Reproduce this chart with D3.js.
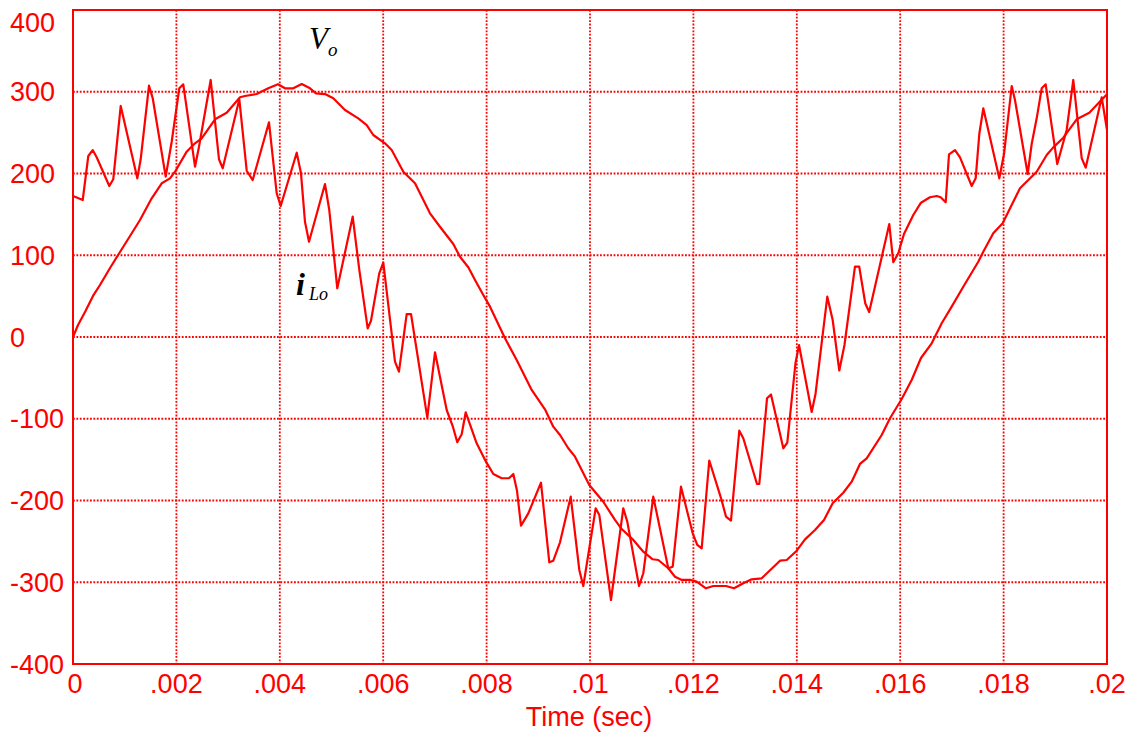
<!DOCTYPE html>
<html>
<head>
<meta charset="utf-8">
<script src="https://cdn.jsdelivr.net/npm/d3@7"></script>
<style>
  body { margin: 0; background: #fff; }
  svg text { font-family: "Liberation Sans", Arial, sans-serif; }
</style>
</head>
<body>
<div class="grafico"></div>
<script>
// tick values
var xTicks = [0, .002, .004, .006, .008, .01, .012, .014, .016, .018, .02];
var xTickLabels = ["0", ".002", ".004", ".006", ".008", ".01", ".012", ".014", ".016", ".018", ".02"];
var yTicks = [400, 300, 200, 100, 0, -100, -200, -300, -400];

// output voltage Vo
var voT = [0, .000097, .000232, .000387, .000522, .000716, .000909, .001103, .001296, .001522,
  .001716, .001876, .001973, .002199, .002359, .002489, .002747, .002973, .00323, .003327,
  .003553, .003777, .003965, .004101, .004261, .004424, .004584, .0047, .004874, .005035,
  .005261, .005518, .005681, .005808, .006035, .006164, .006389, .006615, .006905, .007098,
  .007356, .007485, .007646, .007776, .007936, .008066, .008356, .008582, .008872, .009129,
  .00929, .00942, .00958, .00971, .009986, .010257, .010483, .010613, .010826, .011031,
  .011212, .011321, .011514, .011644, .011773, .011947, .012063, .012243, .012385, .01263,
  .012785, .012965, .013127, .013321, .013675, .013805, .013998, .014159, .014352, .014526,
  .014694, .014899, .015062, .015222, .015352, .015642, .015803, .016029, .016222, .016402,
  .016609, .016803, .016996, .01722, .01751, .017607, .0178, .017982, .018317, .018478,
  .01864, .018834, .018961, .019155, .019414, .019658, .019832, .02];
var voV = [0, 14.7, 30.6, 50.2, 63.6, 84.4, 104, 123.5, 143.1, 169.7,
  188, 194.1, 202.2, 226.7, 236.9, 243.1, 266.3, 274.4, 293.2, 294.8,
  297.2, 304.2, 309.2, 304.2, 304.2, 309.5, 304.2, 298.1, 297.2, 292,
  277.7, 267.5, 259.3, 247.1, 236.9, 228.7, 202.2, 188, 151.3, 134.9,
  113.8, 98.2, 85.3, 69.7, 51.4, 37.1, -1.6, -28.1, -64.8, -88.4,
  -109.7, -119.9, -136.1, -146.4, -181, -201.5, -223.8, -234.9, -247.5, -262.6,
  -271.9, -272.8, -282.9, -293.2, -297.2, -297.2, -299.3, -307.4, -304.6, -304.6,
  -307.4, -301.3, -296.4, -295.2, -273.6, -272.8, -261.4, -247.5, -236.1, -223.8,
  -203.4, -190.5, -177, -155.3, -148.4, -119.9, -99.4, -75.8, -52.6, -25.7,
  -7.7, 16.8, 37.1, 61.5, 92.1, 104.3, 126.8, 139.1, 181.9, 192,
  202.2, 222.6, 232, 243.8, 266.3, 274.4, 285.9, 297];

// inductor current iLo
var iLoT = [0, .000188, .000296, .000381, .000458, .000702, .000779, .000923, .001244, .001309,
  .00147, .001542, .001793, .001909, .002056, .002133, .00236, .002437, .002663, .002824,
  .002896, .003217, .00336, .003476, .003791, .00394, .004017, .004327, .00441, .004487,
  .004565, .004874, .004957, .005112, .00541, .005538, .0057, .005764, .005924, .006002,
  .006228, .006305, .006454, .006538, .006853, .007002, .007228, .007344, .007433, .007518,
  .007596, .007808, .007988, .00813, .008292, .008433, .008517, .008589, .008665, .008807,
  .009052, .009213, .00929, .00942, .009627, .009793, .00987, .01011, .01018, .010406,
  .010644, .010721, .010948, .011031, .011224, .011514, .0116, .01176, .011986, .012075,
  .01216, .012307, .012534, .01263, .012727, .012888, .012965, .01323, .013275, .013424,
  .013501, .013739, .013816, .013975, .014043, .014288, .014362, .01459, .014694, .014822,
  .014922, .015125, .015207, .015325, .0154, .015789, .015866, .015963, .016073, .016253,
  .016402, .016576, .016706, .016783, .01688, .016944, .01706, .017157, .017383, .01746,
  .01753, .017607, .017917, .018008, .018157, .01822, .018466, .018543, .01864, .018737,
  .018814, .019038, .01922, .019348, .019511, .019588, .019898, .02];
var iLoV = [172.5, 167.6, 221.4, 228.7, 219.8, 184.7, 192.9, 282.6, 194.1, 217.4,
  307.4, 292, 196.1, 238.9, 304.2, 309.1, 208.3, 232.8, 314.4, 217.4,
  206.4, 290.8, 203.4, 192, 262.6, 175.8, 160.2, 225.4, 200.2, 141,
  116.6, 187.1, 155.3, 59.6, 147.2, 82, 10.6, 19.9, 77.9, 90.9,
  -30.2, -42.4, 28.1, 28.1, -98.7, -18.7, -89.3, -108.9, -128.8, -119,
  -92.1, -130, -152.5, -167.6, -172.8, -172.8, -167.6, -188.4, -230.8, -215.7,
  -178.2, -275.6, -273.6, -251.1, -195.3, -285, -304.6, -209.5, -217.7, -321.7,
  -209.5, -225.9, -304.6, -289, -195.3, -282.9, -281, -183.1, -240.1, -254.4,
  -258.5, -151.1, -197, -219.6, -224.5, -114.6, -123.9, -179.8, -179.8, -75,
  -70.3, -136.1, -129.3, -31.8, -9.8, -91.7, -69.7, 49.3, 20.8, -41,
  -9.8, 86.2, 86.2, 41, 30.6, 138.2, 91.5, 102.4, 126, 149.2,
  164.3, 170.9, 172.5, 170.9, 164.8, 223.5, 228.7, 219.8, 184.7, 194.1,
  248.3, 279.7, 194.1, 223.8, 307, 289.9, 199.4, 236.1, 267.5, 304.2,
  309.1, 211.6, 253.2, 314.4, 218.6, 207.1, 293.2, 253.2];

var red = "#ff0000";
var W = 1134, H = 733;
var margin = {left: 73, right: 1107, top: 10, bottom: 664};

var svg = d3.select(".grafico")
  .append("svg")
  .attr("width", W)
  .attr("height", H);

var x = d3.scaleLinear().domain([0, 0.02]).range([margin.left, margin.right]);
var y = d3.scaleLinear().domain([-400, 400]).range([margin.bottom, margin.top]);

// dotted grid
svg.append("g")
  .selectAll("line")
  .data(xTicks.slice(1, -1))
  .enter().append("line")
  .attr("x1", function(d) { return x(d); })
  .attr("x2", function(d) { return x(d); })
  .attr("y1", margin.top).attr("y2", margin.bottom)
  .attr("stroke", red).attr("stroke-width", 1.8)
  .attr("stroke-dasharray", "1.8,1.6");

svg.append("g")
  .selectAll("line")
  .data(yTicks.slice(1, -1))
  .enter().append("line")
  .attr("y1", function(d) { return y(d); })
  .attr("y2", function(d) { return y(d); })
  .attr("x1", margin.left).attr("x2", margin.right)
  .attr("stroke", red).attr("stroke-width", 1.8)
  .attr("stroke-dasharray", "1.8,1.6");

// curves
var line = d3.line()
  .x(function(d) { return x(d[0]); })
  .y(function(d) { return y(d[1]); });

var voData = voT.map(function(t, i) { return [t, voV[i]]; });
var iLoData = iLoT.map(function(t, i) { return [t, iLoV[i]]; });

[voData, iLoData].forEach(function(s) {
  svg.append("path")
    .datum(s)
    .attr("d", line)
    .attr("fill", "none")
    .attr("stroke", red)
    .attr("stroke-width", 2.2)
    .attr("stroke-linejoin", "round");
});

// frame
svg.append("rect")
  .attr("x", margin.left).attr("y", margin.top)
  .attr("width", margin.right - margin.left).attr("height", margin.bottom - margin.top)
  .attr("fill", "none")
  .attr("stroke", red)
  .attr("stroke-width", 2);

// y tick labels (left aligned like the original)
svg.append("g")
  .selectAll("text")
  .data(yTicks)
  .enter().append("text")
  .attr("x", 10)
  .attr("y", function(d) { return Math.max(y(d), 22); })
  .attr("dy", "0.36em")
  .attr("fill", red)
  .style("font-size", "27px")
  .text(function(d) { return d < 0 ? "-" + Math.abs(d) : d; });

// x tick labels
svg.append("g")
  .selectAll("text")
  .data(xTicks)
  .enter().append("text")
  .attr("x", function(d) { return x(d) + (d == 0 ? 2 : 0); })
  .attr("y", 693)
  .attr("text-anchor", "middle")
  .attr("fill", red)
  .style("font-size", "27px")
  .text(function(d, i) { return xTickLabels[i]; });

svg.append("text")
  .attr("x", 589)
  .attr("y", 726)
  .attr("text-anchor", "middle")
  .attr("fill", red)
  .style("font-size", "27px")
  .text("Time (sec)");

// curve labels
var vo = svg.append("text")
  .attr("x", 309).attr("y", 49)
  .style("font-family", "'Liberation Serif', 'Times New Roman', serif")
  .style("font-style", "italic")
  .attr("fill", "#000");
vo.append("tspan").style("font-size", "31px").text("V");
vo.append("tspan").attr("dy", 7).style("font-size", "19px").text("o");

var il = svg.append("text")
  .attr("x", 296).attr("y", 295)
  .style("font-family", "'Liberation Serif', 'Times New Roman', serif")
  .style("font-style", "italic")
  .attr("fill", "#000");
il.append("tspan").style("font-size", "32px").style("font-weight", "bold").text("i");
il.append("tspan").attr("dx", 4).attr("dy", 5).style("font-size", "18px").text("Lo");
</script>
</body>
</html>
